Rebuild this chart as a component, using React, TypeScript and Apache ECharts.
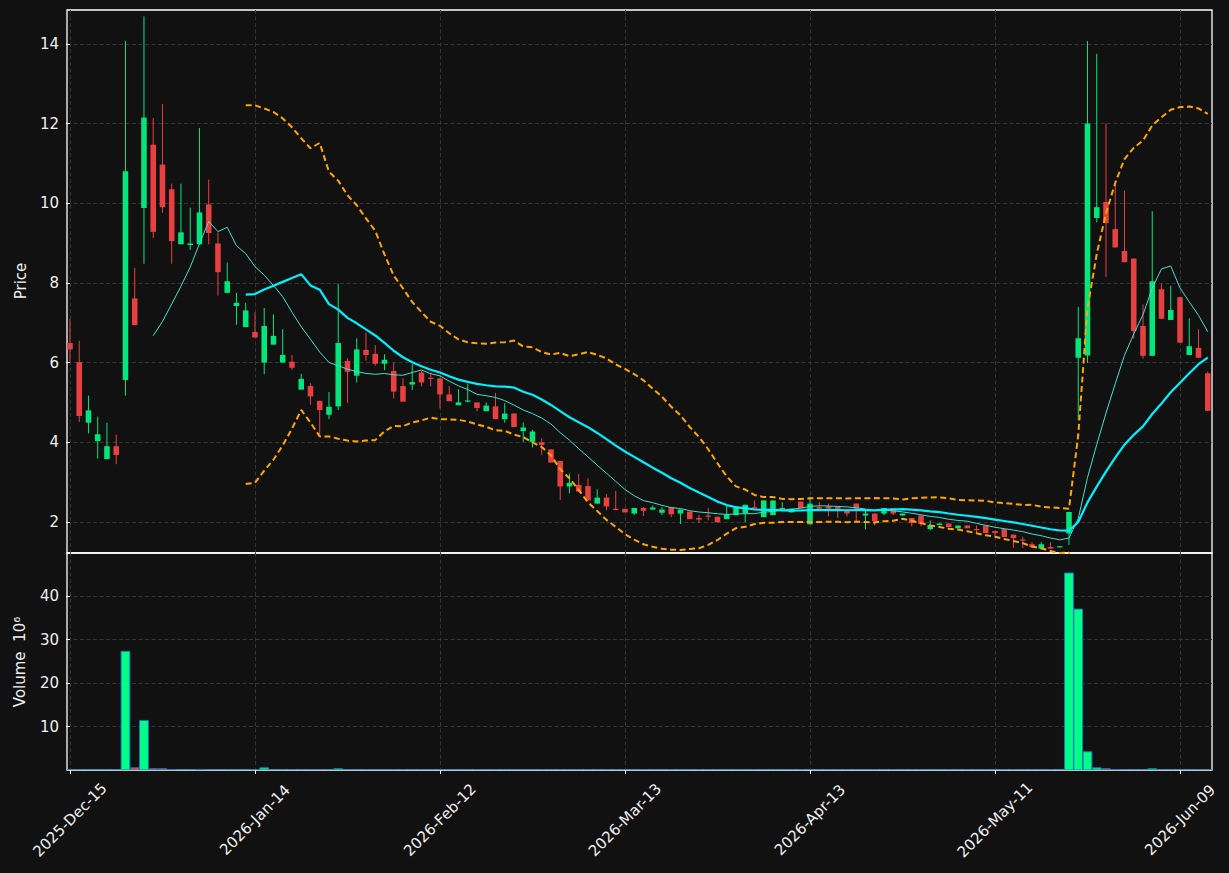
import React, { useEffect, useRef } from "react";
import * as echarts from "echarts";

// ---- data ----
const opens = [6.49, 6.01, 4.49, 4.03, 3.58, 3.90, 5.56, 7.61, 9.88, 11.47, 10.97, 10.35, 8.97, 8.95, 8.97, 9.97, 8.99, 7.75, 7.42, 6.89,
  6.77, 6.00, 6.45, 6.00, 6.02, 5.32, 5.41, 5.04, 4.69, 4.90, 6.04, 5.67, 6.32, 6.22, 5.97, 5.79, 5.41, 5.45, 5.75, 5.62,
  5.60, 5.20, 4.93, 5.02, 5.00, 4.78, 4.90, 4.58, 4.72, 4.28, 4.01, 4.00, 3.82, 3.53, 2.89, 2.93, 2.90, 2.46, 2.61, 2.33,
  2.33, 2.21, 2.35, 2.31, 2.23, 2.37, 2.21, 2.26, 2.10, 2.16, 2.13, 2.07, 2.17, 2.22, 2.37, 2.12, 2.17, 2.31, 2.24, 2.51,
  1.94, 2.37, 2.39, 2.38, 2.31, 2.46, 2.16, 2.21, 2.21, 2.35, 2.16, 2.10, 2.16, 1.82, 1.92, 1.96, 1.84, 1.91, 1.82, 1.91,
  1.77, 1.82, 1.68, 1.56, 1.44, 1.33, 1.37, 1.36, 1.71, 6.12, 6.18, 9.63, 10.03, 9.35, 8.80, 8.61, 6.92, 6.17, 7.84, 7.07,
  7.64, 6.19, 6.37, 5.73];
const highs = [7.09, 6.55, 5.17, 4.64, 4.49, 4.19, 14.08, 8.38, 14.69, 12.14, 12.49, 10.49, 10.49, 9.89, 11.89, 10.59, 9.27, 8.51, 7.75, 7.50,
  7.26, 7.37, 7.21, 6.84, 6.19, 5.72, 5.48, 5.04, 5.26, 7.98, 6.11, 6.61, 6.75, 6.44, 6.21, 6.00, 5.61, 5.96, 5.79, 5.75,
  5.62, 5.41, 5.33, 5.46, 5.00, 5.00, 5.24, 4.98, 4.72, 4.50, 4.31, 4.10, 3.82, 3.53, 3.21, 3.20, 3.10, 2.82, 2.70, 2.78,
  2.33, 2.35, 2.38, 2.41, 2.37, 2.37, 2.31, 2.26, 2.18, 2.35, 2.13, 2.41, 2.39, 2.43, 2.54, 2.54, 2.54, 2.50, 2.33, 2.51,
  2.63, 2.50, 2.46, 2.38, 2.31, 2.46, 2.31, 2.21, 2.35, 2.35, 2.21, 2.10, 2.16, 2.04, 1.96, 1.96, 1.91, 1.91, 1.91, 1.91,
  1.77, 1.82, 1.68, 1.63, 1.50, 1.50, 1.49, 1.39, 2.25, 7.40, 14.07, 13.75, 12.00, 10.48, 10.32, 8.61, 7.46, 9.80, 7.98, 7.93,
  7.64, 7.11, 6.84, 5.77];
const lows = [6.02, 4.51, 4.22, 3.59, 3.57, 3.45, 5.17, 6.94, 8.48, 9.13, 9.76, 8.48, 8.97, 8.83, 8.97, 8.97, 7.68, 7.75, 6.95, 6.89,
  6.63, 5.71, 6.45, 6.00, 5.82, 5.32, 4.94, 4.21, 4.58, 4.81, 4.98, 5.50, 6.05, 5.92, 5.81, 5.10, 5.02, 5.31, 5.40, 5.40,
  4.85, 5.03, 4.93, 5.00, 4.78, 4.78, 4.58, 4.49, 4.38, 4.01, 3.87, 3.69, 3.49, 2.55, 2.72, 2.76, 2.54, 2.46, 2.29, 2.31,
  2.24, 2.18, 2.15, 2.31, 2.17, 2.12, 1.95, 2.07, 1.97, 2.04, 1.99, 2.07, 2.17, 2.00, 2.33, 2.12, 2.17, 2.31, 2.24, 2.35,
  1.94, 2.31, 2.14, 2.10, 2.14, 1.99, 1.81, 1.91, 2.17, 2.17, 2.16, 1.89, 1.89, 1.79, 1.92, 1.87, 1.84, 1.84, 1.74, 1.72,
  1.64, 1.62, 1.35, 1.35, 1.35, 1.31, 1.33, 1.36, 1.42, 4.55, 5.99, 9.52, 8.15, 8.89, 8.52, 6.60, 6.10, 6.17, 7.10, 7.07,
  6.50, 6.19, 6.12, 4.79];
const closes = [6.33, 4.66, 4.80, 4.20, 3.90, 3.68, 10.80, 6.94, 12.15, 9.28, 9.90, 9.05, 9.27, 8.99, 9.77, 9.25, 8.27, 8.04, 7.50, 7.31,
  6.63, 6.92, 6.67, 6.19, 5.87, 5.59, 5.15, 4.81, 4.89, 6.49, 5.77, 6.33, 6.19, 5.97, 6.07, 5.27, 5.02, 5.51, 5.50, 5.59,
  5.20, 5.03, 5.00, 5.05, 4.86, 4.92, 4.58, 4.72, 4.38, 4.37, 4.27, 3.93, 3.49, 2.89, 2.98, 2.76, 2.54, 2.61, 2.39, 2.32,
  2.24, 2.35, 2.28, 2.36, 2.31, 2.19, 2.31, 2.07, 2.06, 2.13, 1.99, 2.18, 2.39, 2.43, 2.33, 2.54, 2.54, 2.35, 2.33, 2.35,
  2.46, 2.33, 2.33, 2.33, 2.21, 2.33, 2.21, 2.02, 2.35, 2.21, 2.21, 1.97, 1.95, 1.92, 1.96, 1.87, 1.91, 1.84, 1.80, 1.72,
  1.72, 1.62, 1.59, 1.53, 1.37, 1.44, 1.33, 1.39, 2.25, 6.61, 12.00, 9.90, 9.50, 8.89, 8.52, 6.79, 6.17, 8.04, 7.10, 7.32,
  6.50, 6.41, 6.12, 4.79];
// volume in millions
const volumes = [0.03, 0.03, 0.03, 0.03, 0.03, 0.03, 27.3, 0.5, 11.4, 0.3, 0.3, 0.1, 0.03, 0.03, 0.1, 0.03, 0.03, 0.03, 0.03, 0.03,
  0.1, 0.5, 0.03, 0.03, 0.03, 0.03, 0.03, 0.03, 0.03, 0.3, 0.03, 0.03, 0.03, 0.03, 0.03, 0.03, 0.03, 0.03, 0.03, 0.03,
  0.03, 0.03, 0.03, 0.03, 0.03, 0.03, 0.03, 0.03, 0.03, 0.03, 0.03, 0.03, 0.03, 0.03, 0.03, 0.03, 0.03, 0.03, 0.03, 0.03,
  0.03, 0.03, 0.03, 0.03, 0.03, 0.03, 0.03, 0.03, 0.03, 0.03, 0.03, 0.03, 0.03, 0.03, 0.03, 0.03, 0.03, 0.03, 0.03, 0.03,
  0.03, 0.03, 0.03, 0.03, 0.03, 0.03, 0.03, 0.03, 0.03, 0.03, 0.03, 0.03, 0.03, 0.03, 0.03, 0.03, 0.03, 0.03, 0.03, 0.03,
  0.03, 0.03, 0.03, 0.03, 0.03, 0.03, 0.03, 0.03, 45.3, 37.0, 4.2, 0.5, 0.3, 0.1, 0.03, 0.03, 0.03, 0.3, 0.03, 0.03,
  0.03, 0.03, 0.03, 0.03];
const xTickIndex = [0, 20, 40, 60, 80, 100, 120];
const xTickLabels = ["2025-Dec-15", "2026-Jan-14", "2026-Feb-12", "2026-Mar-13", "2026-Apr-13", "2026-May-11", "2026-Jun-09"];
const priceTicks = [2, 4, 6, 8, 10, 12, 14];
const volumeTicks = [10, 20, 30, 40];

// ---- indicators derived from the closes ----
function movingAverage(vals: number[], n: number): (number | null)[] {
  return vals.map((_, i) => {
    if (i < n - 1) return null;
    let s = 0;
    for (let k = i - n + 1; k <= i; k++) s += vals[k];
    return s / n;
  });
}
function bollinger(vals: number[], n: number, k: number) {
  const mid = movingAverage(vals, n);
  const up: (number | null)[] = [];
  const lo: (number | null)[] = [];
  vals.forEach((_, i) => {
    const m = mid[i];
    if (m === null) { up.push(null); lo.push(null); return; }
    let s = 0;
    for (let j = i - n + 1; j <= i; j++) s += (vals[j] - m) ** 2;
    const sd = Math.sqrt(s / n);
    up.push(m + k * sd);
    lo.push(m - k * sd);
  });
  return { up, lo };
}
const ma10 = movingAverage(closes, 10);
const ma20 = movingAverage(closes, 20);
const bb = bollinger(closes, 20, 2);

const UP = "#03e67b";
const DOWN = "#e84040";
const VUP = "#00ff88";
const VDOWN = "#ff4a4a";
const TXT = "#f0f0f0";
const GRIDC = "#3a3a3a";
const FONT = "DejaVu Sans";

export default function App() {
  const ref = useRef<HTMLDivElement>(null);
  useEffect(() => {
    if (!ref.current) return;
    const chart = echarts.init(ref.current, null, { renderer: "svg" });
    const candleData = opens.map((o, i) => [i, o, closes[i], lows[i], highs[i]]);
    const volData = volumes.map((v, i) => [i, v, closes[i] >= opens[i] ? 1 : 0]);
    const toLine = (arr: (number | null)[]) => arr.map((v, i) => [i, v === null ? "-" : v]);
    const xMin = -0.32, xMax = 123.46;
    const splitStyle = { show: true, lineStyle: { color: GRIDC, width: 0.9, type: [4, 2.5] as any } };
    const option: any = {
      animation: false,
      backgroundColor: "#111111",
      grid: [
        { left: 67, top: 10, width: 1145, height: 543, show: true, borderColor: "#ffffff", borderWidth: 1.3, backgroundColor: "transparent" },
        { left: 67, top: 553, width: 1145, height: 217, show: true, borderColor: "#ffffff", borderWidth: 1.3, backgroundColor: "transparent" },
      ],
      xAxis: [
        {
          type: "value", gridIndex: 0, min: xMin, max: xMax,
          axisLine: { show: false },
          axisTick: { show: false, customValues: xTickIndex },
          axisLabel: { show: false, customValues: xTickIndex },
          splitLine: splitStyle,
        },
        {
          type: "value", gridIndex: 1, min: xMin, max: xMax,
          axisLine: { show: false },
          axisTick: { show: true, customValues: xTickIndex, length: 4, lineStyle: { color: "#ffffff", width: 1 } },
          axisLabel: {
            show: true, customValues: xTickIndex, rotate: 45, align: "center", verticalAlign: "middle", margin: 50,
            color: TXT, fontSize: 15, fontFamily: FONT,
            formatter: (v: number) => xTickLabels[xTickIndex.indexOf(Math.round(v))] ?? "",
          },
          splitLine: splitStyle,
        },
      ],
      yAxis: [
        {
          type: "value", gridIndex: 0, min: 1.22, max: 14.85,
          axisLine: { show: false },
          axisTick: { show: true, customValues: priceTicks, length: 4, lineStyle: { color: "#ffffff", width: 1 } },
          axisLabel: { customValues: priceTicks, color: TXT, fontSize: 15, fontFamily: FONT, margin: 8 },
          splitLine: splitStyle,
        },
        {
          type: "value", gridIndex: 1, min: 0, max: 49.9,
          axisLine: { show: false },
          axisTick: { show: true, customValues: volumeTicks, length: 4, lineStyle: { color: "#ffffff", width: 1 } },
          axisLabel: { customValues: volumeTicks, color: TXT, fontSize: 15, fontFamily: FONT, margin: 8 },
          splitLine: splitStyle,
        },
      ],
      series: [
        {
          type: "custom", name: "Candles", xAxisIndex: 0, yAxisIndex: 0, clip: true, z: 2,
          data: candleData,
          encode: { x: 0, y: [1, 2, 3, 4] },
          renderItem: (params: any, api: any) => {
            const i = api.value(0), o = api.value(1), c = api.value(2), l = api.value(3), h = api.value(4);
            const pO = api.coord([i, o]);
            const pC = api.coord([i, c]);
            const pL = api.coord([i, l]);
            const pH = api.coord([i, h]);
            const w = api.size([1, 0])[0] * 0.6;
            const color = c >= o ? UP : DOWN;
            const top = Math.min(pO[1], pC[1]);
            const hh = Math.max(Math.abs(pO[1] - pC[1]), 1.2);
            return {
              type: "group",
              children: [
                { type: "line", shape: { x1: pH[0], y1: pH[1], x2: pL[0], y2: pL[1] }, style: { stroke: color, lineWidth: 1 } },
                { type: "rect", shape: { x: pO[0] - w / 2, y: top, width: w, height: hh }, style: { fill: color } },
              ],
            };
          },
        },
        {
          type: "line", name: "MA10", xAxisIndex: 0, yAxisIndex: 0, data: toLine(ma10), symbol: "none", z: 3,
          lineStyle: { color: "#40e0d0", width: 1 },
        },
        {
          type: "line", name: "MA20", xAxisIndex: 0, yAxisIndex: 0, data: toLine(ma20), symbol: "none", z: 3,
          lineStyle: { color: "#00f0ff", width: 2.2 },
        },
        {
          type: "line", name: "BB upper", xAxisIndex: 0, yAxisIndex: 0, data: toLine(bb.up), symbol: "none", z: 3,
          lineStyle: { color: "#ffa500", width: 2, type: [6, 3.5] },
        },
        {
          type: "line", name: "BB lower", xAxisIndex: 0, yAxisIndex: 0, data: toLine(bb.lo), symbol: "none", z: 3,
          lineStyle: { color: "#ffa500", width: 2, type: [6, 3.5] },
        },
        {
          type: "custom", name: "Volume", xAxisIndex: 1, yAxisIndex: 1, clip: true, z: 2,
          data: volData,
          encode: { x: 0, y: 1 },
          renderItem: (params: any, api: any) => {
            const i = api.value(0), v = api.value(1), up = api.value(2);
            const p0 = api.coord([i, 0]);
            const p1 = api.coord([i, v]);
            const w = api.size([1, 0])[0] * 0.95;
            return {
              type: "rect",
              shape: { x: p0[0] - w / 2, y: p1[1], width: w, height: Math.max(p0[1] - p1[1], 0.3) },
              style: { fill: up ? VUP : VDOWN, stroke: "#1f77b4", lineWidth: 1 },
            };
          },
        },
      ],
      graphic: [
        {
          type: "text", x: 21, y: 281, rotation: Math.PI / 2,
          style: { text: "Price", fill: TXT, fontSize: 15, fontFamily: FONT, align: "center", verticalAlign: "middle" },
        },
        {
          type: "text", x: 20, y: 662, rotation: Math.PI / 2,
          style: { text: "Volume  10\u2076", fill: TXT, fontSize: 15, fontFamily: FONT, align: "center", verticalAlign: "middle" },
        },
      ],
    };
    chart.setOption(option);
    return () => chart.dispose();
  }, []);
  return (
    <div
      ref={ref}
      style={{ position: "fixed", left: 0, top: 0, width: 1229, height: 873, background: "#111111" }}
    />
  );
}
